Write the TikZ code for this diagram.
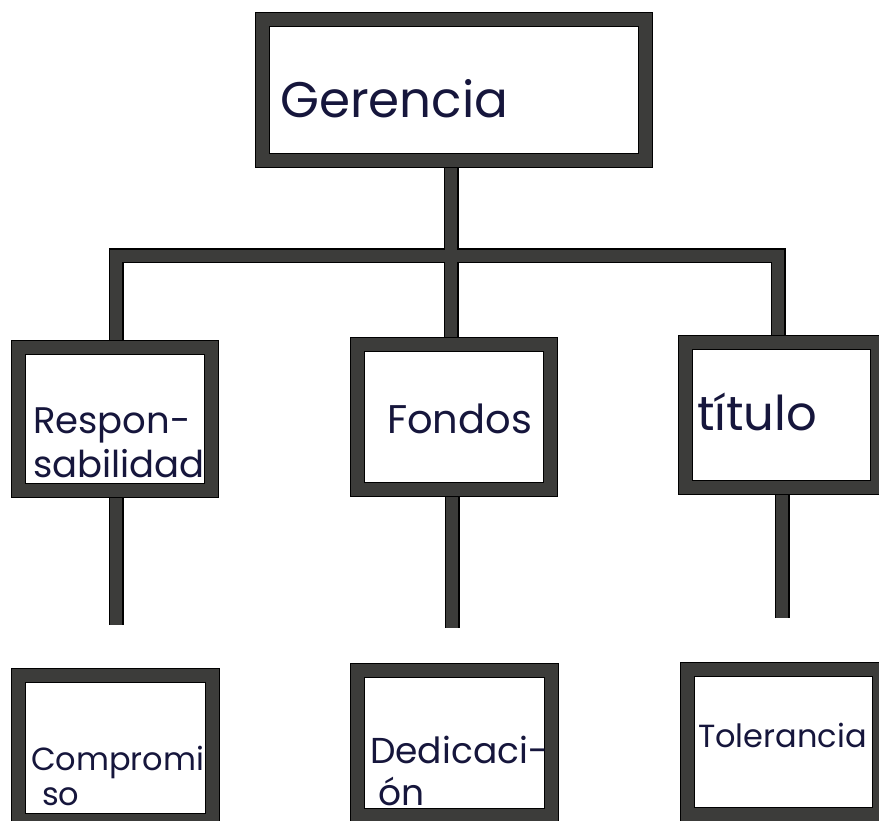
\documentclass[tikz,border=0pt]{standalone}
\usepackage{fontspec}
\setmainfont{Poppins}
\definecolor{boxgray}{HTML}{3C3C3A}
\definecolor{ink}{HTML}{16163C}
\begin{document}
\begin{tikzpicture}[x=1pt,y=-1pt,
  orgbox/.style={draw=black, line width=1pt, double=boxgray, double distance=13pt,
    fill=white, inner sep=0pt, minimum width=#1},
  connout/.style={draw=black, line width=15pt, line join=miter},
  connin/.style={draw=boxgray, line width=12.5pt, line join=miter},
  hand/.style={anchor=base west, inner sep=0pt, text=ink, font=\fontsize{#1}{#1}\selectfont}]
\useasboundingbox (0,0) rectangle (879,821);
\fill[white] (0,0) rectangle (879,821);

% junction coordinates
\coordinate (jl) at (116,256);
\coordinate (jm) at (451,256);
\coordinate (jr) at (778,256);
\coordinate (s1) at (116,625);
\coordinate (s2) at (452,628);
\coordinate (s3) at (782,618);

% boxes (positions only, drawn later)
\path (454,90) node[minimum width=383pt, minimum height=141pt, inner sep=0pt] (ger) {};
\path (115,419) node[minimum width=193pt, minimum height=143pt, inner sep=0pt] (resp) {};
\path (454,417) node[minimum width=193pt, minimum height=145pt, inner sep=0pt] (fon) {};
\path (781,415) node[minimum width=192pt, minimum height=145pt, inner sep=0pt] (tit) {};

% connectors: outline pass then fill pass
\foreach \st in {connout,connin}{
  \draw[\st] (ger.center |- ger.south) ++(-3,0) coordinate (gs) (gs -| jm) -- (jm);
  \draw[\st] (jl |- resp.north) -- (jl) -- (jr) -- (jr |- tit.north);
  \draw[\st] (jm) -- (jm |- fon.north);
  \draw[\st] (s1 |- resp.south) -- (s1);
  \draw[\st] (s2 |- fon.south) -- (s2);
  \draw[\st] (s3 |- tit.south) -- (s3);
}

% box drawing
\node[orgbox=383pt, minimum height=141pt] at (ger) {};
\node[orgbox=193pt, minimum height=143pt] at (resp) {};
\node[orgbox=193pt, minimum height=145pt] at (fon) {};
\node[orgbox=192pt, minimum height=145pt] at (tit) {};
\node[orgbox=194pt, minimum height=145pt] (comp) at (115.5,748) {};
\node[orgbox=194pt, minimum height=145pt] (ded) at (454.5,743) {};
\node[orgbox=192pt, minimum height=145pt] (tol) at (783,742) {};

% texts
\node[hand=50pt] (tger) at (280,118) {Gerencia};
\node[hand=37pt] (tresp1) at (33,433) {Respon-};
\node[hand=37pt] (tresp2) at (33,477) {sabilidad};
\node[hand=40pt] (tfon) at (387,433) {Fondos};
\node[hand=48pt] (ttit) at (697,430) {título};
\node[hand=32pt] (tcomp1) at (31,770) {Compromi};
\node[hand=32pt] (tcomp2) at (42,805) {so};
\node[hand=36pt] (tded1) at (370,763) {Dedicaci-};
\node[hand=36pt] (tded2) at (378,805) {ón};
\node[hand=32pt] (ttol) at (698,747) {Tolerancia};
\end{tikzpicture}
\end{document}
